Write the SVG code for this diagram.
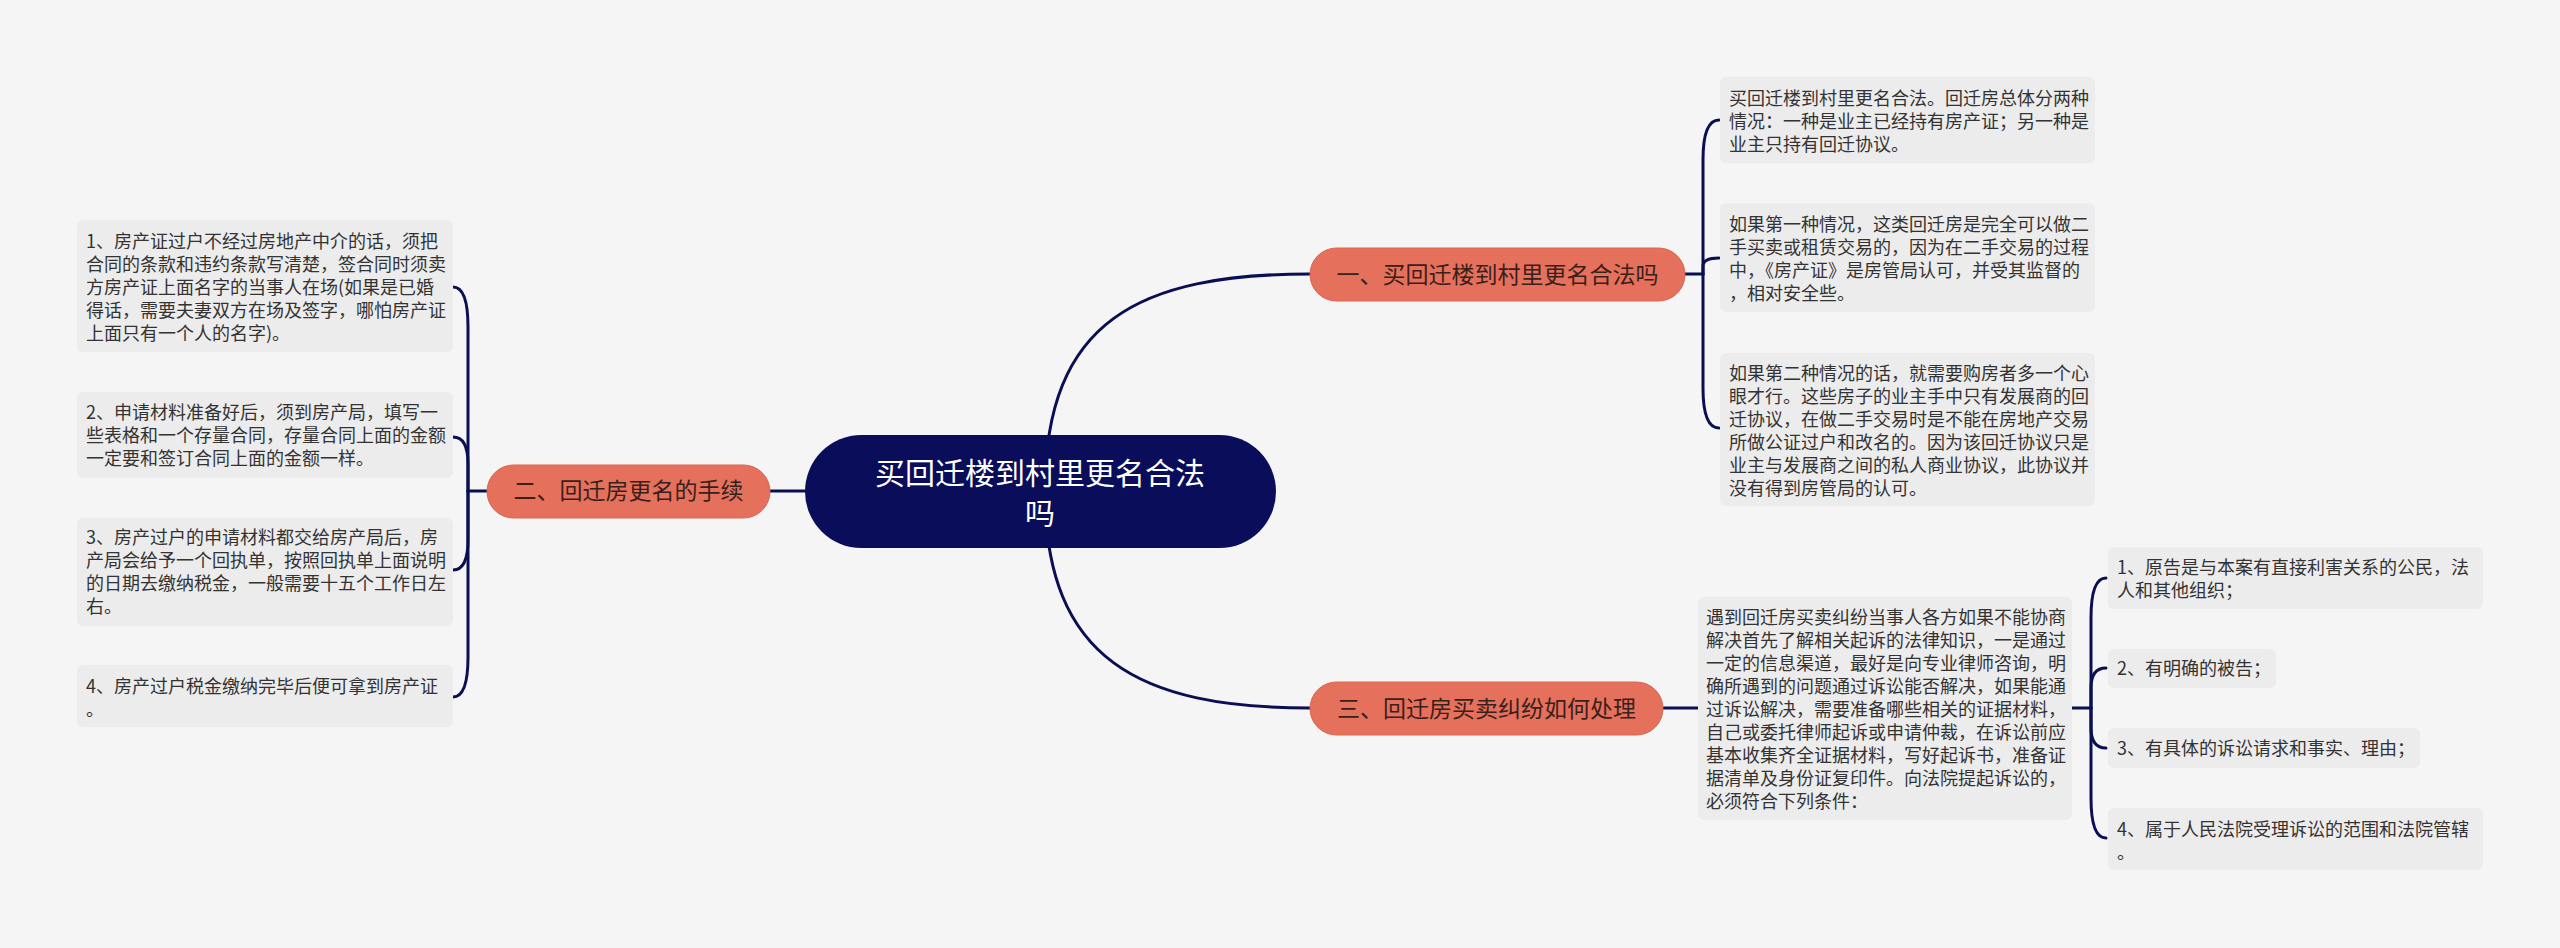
<svg xmlns="http://www.w3.org/2000/svg" width="2560" height="948" viewBox="0 0 2560 948">
<style>
.bg{fill:#f5f5f5}
.box{fill:#ececec}
.t{font-family:"Noto Sans CJK SC","Microsoft YaHei",sans-serif;font-size:18px;fill:#333333}
.sub{fill:#e5705b;stroke:#d8664f;stroke-width:1}
.st{font-family:"Noto Sans CJK SC","Microsoft YaHei",sans-serif;font-size:23px;fill:#3a201b;text-anchor:middle}
.root{fill:#0a0e5a}
.rt{font-family:"Noto Sans CJK SC","Microsoft YaHei",sans-serif;font-size:30px;fill:#ffffff;text-anchor:middle}
.ln{fill:none;stroke:#0a0e52;stroke-width:3;stroke-linecap:round}
</style>
<rect class="bg" x="0" y="0" width="2560" height="948"/>
<g id="connectors">
<path class="ln" d="M1045,491 C1045,320 1140,274 1310,274"/>
<path class="ln" d="M1045,491 C1045,660 1140,708 1310,708"/>
<path class="ln" d="M805,491 L770,491"/>
<path class="ln" d="M487,491 L468,491"/>
<path class="ln" d="M468,491 L468,327 Q468,287 453,287"/>
<path class="ln" d="M468,491 L468,464 Q468,437 453,437"/>
<path class="ln" d="M468,491 L468,540 Q468,570 453,570"/>
<path class="ln" d="M468,491 L468,657 Q468,697 453,697"/>
<path class="ln" d="M1685,274 L1703,274"/>
<path class="ln" d="M1703,274 L1703,160 Q1703,120 1719,120"/>
<path class="ln" d="M1703,274 L1703,266 Q1703,258 1719,258"/>
<path class="ln" d="M1703,274 L1703,388 Q1703,428 1719,428"/>
<path class="ln" d="M1663,708 L1698,708"/>
<path class="ln" d="M2072,708 L2091,708"/>
<path class="ln" d="M2091,708 L2091,618 Q2091,578 2106,578"/>
<path class="ln" d="M2091,708 L2091,688 Q2091,668 2106,668"/>
<path class="ln" d="M2091,708 L2091,728 Q2091,748 2106,748"/>
<path class="ln" d="M2091,708 L2091,798 Q2091,838 2106,838"/>
</g>
<g id="root">
<rect class="root" x="805" y="435" width="471" height="113" rx="56.5"/>
<text class="rt" x="1040" y="484">买回迁楼到村里更名合法</text>
<text class="rt" x="1040" y="524">吗</text>
</g>
<g id="node1">
<rect class="sub" x="1310" y="248" width="375" height="53" rx="26.5"/>
<text class="st" x="1497.5" y="282.5">一、买回迁楼到村里更名合法吗</text>
</g>
<g id="node2">
<rect class="sub" x="487" y="465" width="283" height="53" rx="26.5"/>
<text class="st" x="628.5" y="499">二、回迁房更名的手续</text>
</g>
<g id="node3">
<rect class="sub" x="1310" y="682" width="353" height="53" rx="26.5"/>
<text class="st" x="1486.5" y="716.5">三、回迁房买卖纠纷如何处理</text>
</g>
<g id="left1">
<rect class="box" x="77" y="220" width="376" height="132" rx="6"/>
<text class="t"><tspan x="86" y="248">1、房产证过户不经过房地产中介的话，须把</tspan><tspan x="86" y="271">合同的条款和违约条款写清楚，签合同时须卖</tspan><tspan x="86" y="294">方房产证上面名字的当事人在场(如果是已婚</tspan><tspan x="86" y="317">得话，需要夫妻双方在场及签字，哪怕房产证</tspan><tspan x="86" y="340">上面只有一个人的名字)。</tspan></text>
</g>
<g id="left2">
<rect class="box" x="77" y="392" width="376" height="86" rx="6"/>
<text class="t"><tspan x="86" y="419">2、申请材料准备好后，须到房产局，填写一</tspan><tspan x="86" y="442">些表格和一个存量合同，存量合同上面的金额</tspan><tspan x="86" y="465">一定要和签订合同上面的金额一样。</tspan></text>
</g>
<g id="left3">
<rect class="box" x="77" y="518" width="376" height="108" rx="6"/>
<text class="t"><tspan x="86" y="544">3、房产过户的申请材料都交给房产局后，房</tspan><tspan x="86" y="567">产局会给予一个回执单，按照回执单上面说明</tspan><tspan x="86" y="590">的日期去缴纳税金，一般需要十五个工作日左</tspan><tspan x="86" y="613">右。</tspan></text>
</g>
<g id="left4">
<rect class="box" x="77" y="665" width="376" height="62" rx="6"/>
<text class="t"><tspan x="86" y="693">4、房产过户税金缴纳完毕后便可拿到房产证</tspan><tspan x="86" y="716">。</tspan></text>
</g>
<g id="rightA">
<rect class="box" x="1720" y="77" width="375" height="86" rx="6"/>
<text class="t"><tspan x="1729" y="105">买回迁楼到村里更名合法。回迁房总体分两种</tspan><tspan x="1729" y="128">情况：一种是业主已经持有房产证；另一种是</tspan><tspan x="1729" y="151">业主只持有回迁协议。</tspan></text>
</g>
<g id="rightB">
<rect class="box" x="1720" y="203" width="375" height="109" rx="6"/>
<text class="t"><tspan x="1729" y="231">如果第一种情况，这类回迁房是完全可以做二</tspan><tspan x="1729" y="254">手买卖或租赁交易的，因为在二手交易的过程</tspan><tspan x="1729" y="277">中，《房产证》是房管局认可，并受其监督的</tspan><tspan x="1729" y="300">，相对安全些。</tspan></text>
</g>
<g id="rightC">
<rect class="box" x="1720" y="353" width="375" height="153" rx="6"/>
<text class="t"><tspan x="1729" y="380">如果第二种情况的话，就需要购房者多一个心</tspan><tspan x="1729" y="403">眼才行。这些房子的业主手中只有发展商的回</tspan><tspan x="1729" y="426">迁协议，在做二手交易时是不能在房地产交易</tspan><tspan x="1729" y="449">所做公证过户和改名的。因为该回迁协议只是</tspan><tspan x="1729" y="472">业主与发展商之间的私人商业协议，此协议并</tspan><tspan x="1729" y="495">没有得到房管局的认可。</tspan></text>
</g>
<g id="rightD">
<rect class="box" x="1698" y="597" width="374" height="223" rx="6"/>
<text class="t"><tspan x="1706" y="624">遇到回迁房买卖纠纷当事人各方如果不能协商</tspan><tspan x="1706" y="647">解决首先了解相关起诉的法律知识，一是通过</tspan><tspan x="1706" y="670">一定的信息渠道，最好是向专业律师咨询，明</tspan><tspan x="1706" y="693">确所遇到的问题通过诉讼能否解决，如果能通</tspan><tspan x="1706" y="716">过诉讼解决，需要准备哪些相关的证据材料，</tspan><tspan x="1706" y="739">自己或委托律师起诉或申请仲裁，在诉讼前应</tspan><tspan x="1706" y="762">基本收集齐全证据材料，写好起诉书，准备证</tspan><tspan x="1706" y="785">据清单及身份证复印件。向法院提起诉讼的，</tspan><tspan x="1706" y="808">必须符合下列条件：</tspan></text>
</g>
<g id="rightE1">
<rect class="box" x="2108" y="547" width="375" height="62" rx="6"/>
<text class="t"><tspan x="2117" y="574">1、原告是与本案有直接利害关系的公民，法</tspan><tspan x="2117" y="597">人和其他组织；</tspan></text>
</g>
<g id="rightE2">
<rect class="box" x="2108" y="649" width="168" height="39" rx="6"/>
<text class="t" x="2117" y="675">2、有明确的被告；</text>
</g>
<g id="rightE3">
<rect class="box" x="2108" y="728" width="312" height="40" rx="6"/>
<text class="t" x="2117" y="755">3、有具体的诉讼请求和事实、理由；</text>
</g>
<g id="rightE4">
<rect class="box" x="2108" y="808" width="375" height="62" rx="6"/>
<text class="t"><tspan x="2117" y="836">4、属于人民法院受理诉讼的范围和法院管辖</tspan><tspan x="2117" y="859">。</tspan></text>
</g>
</svg>
